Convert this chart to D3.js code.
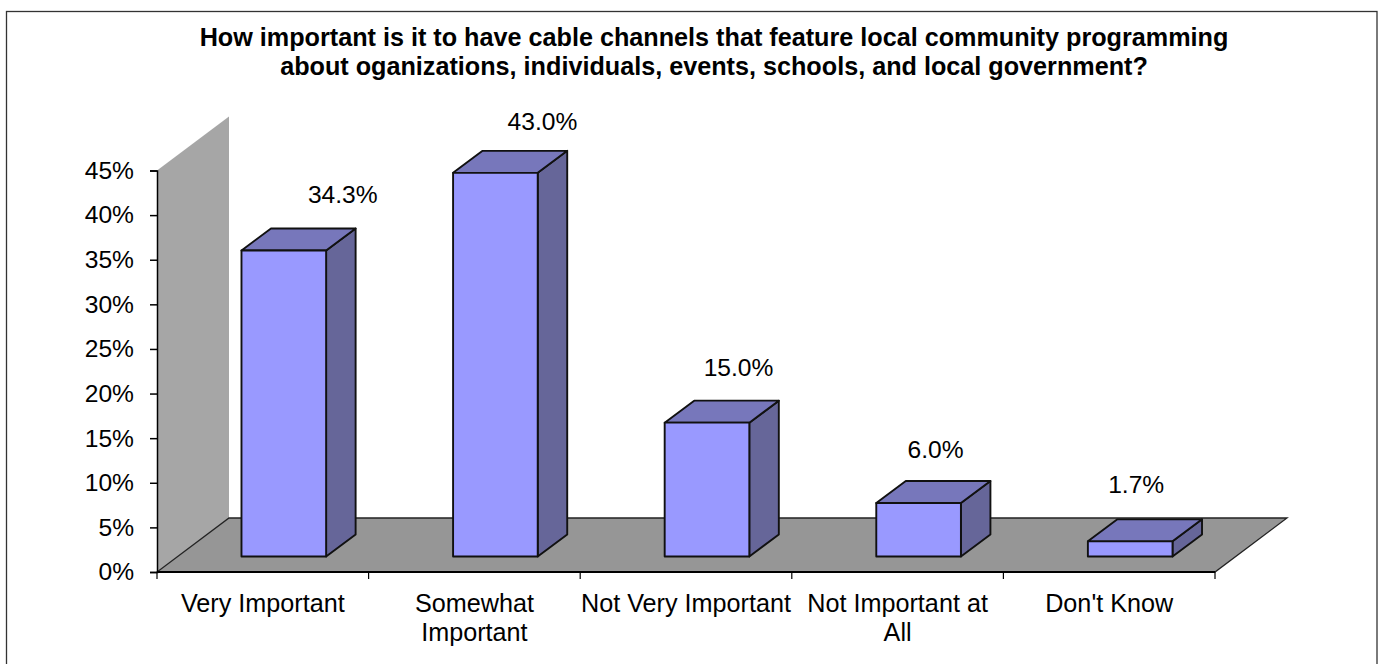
<!DOCTYPE html>
<html><head><meta charset="utf-8">
<script src="https://cdn.jsdelivr.net/npm/d3@7"></script>
<style>html,body{margin:0;padding:0;background:#fff;overflow:hidden}svg{display:block}text{font-family:"Liberation Sans",Arial,sans-serif;fill:#000}</style>
</head><body><svg id="c" width="1380" height="664"></svg>
<script>
const categories=[["Very Important"],["Somewhat","Important"],["Not Very Important"],["Not Important at","All"],["Don't Know"]];
const values=[34.3,43.0,15.0,6.0,1.7];
const valueLabels=["34.3%","43.0%","15.0%","6.0%","1.7%"];
const yTicks=[0,5,10,15,20,25,30,35,40,45];
const titleLines=["How important is it to have cable channels that feature local community programming","about oganizations, individuals, events, schools, and local government?"];

const svg=d3.select("#c");
const x=d3.scaleBand().domain(d3.range(categories.length)).range([157,1215]);
const y=d3.scaleLinear().domain([0,45]).range([572,170.5]);
const wall={dx:72,dy:-54}, front={dx:21,dy:-15.5}, side={dx:29.5,dy:-22};
const barW=x.bandwidth()*0.4;
const labelNudge=[[59,-25.5],[47,-21],[31.5,-24.7],[17,-23],[6,-26]];
const poly=p=>"M"+p.map(q=>q.join(",")).join("L")+"Z";

svg.append("rect").attr("x",6.5).attr("y",11.5).attr("width",1370.5).attr("height",700).attr("fill","#fff").attr("stroke","#333").attr("stroke-width",1.3);

const t=svg.append("g").attr("font-weight","bold").attr("font-size",25.2).attr("text-anchor","middle");
titleLines.forEach((s,i)=>t.append("text").attr("x",714).attr("y",46+i*29).text(s));

const X0=x.range()[0],X1=x.range()[1],Y0=y(0),YT=y(45);
svg.append("path").attr("d",poly([[X0,Y0],[X0,YT],[X0+wall.dx,YT+wall.dy],[X0+wall.dx,Y0+wall.dy]])).attr("fill","#a6a6a6");
svg.append("path").attr("d",poly([[X0,Y0],[X1,Y0],[X1+wall.dx,Y0+wall.dy],[X0+wall.dx,Y0+wall.dy]])).attr("fill","#969696").attr("stroke","#222").attr("stroke-width",1.3);

const bars=svg.append("g").attr("stroke","#111").attr("stroke-width",1.9).attr("stroke-linejoin","round");
values.forEach((v,i)=>{
  const l=x(i)+(x.bandwidth()-barW)/2+front.dx, r=l+barW, b=Y0+front.dy, tp=y(v)+front.dy;
  bars.append("path").attr("fill","#666699").attr("d",poly([[r,tp],[r+side.dx,tp+side.dy],[r+side.dx,b+side.dy],[r,b]]));
  bars.append("path").attr("fill","#7777bb").attr("d",poly([[l,tp],[l+side.dx,tp+side.dy],[r+side.dx,tp+side.dy],[r,tp]]));
  bars.append("path").attr("fill","#9999ff").attr("d",poly([[l,tp],[r,tp],[r,b],[l,b]]));
  svg.append("text").attr("x",(l+r)/2+labelNudge[i][0]).attr("y",tp+side.dy+labelNudge[i][1]).attr("text-anchor","middle").attr("font-size",24.6).text(valueLabels[i]);
});

const yAxis=d3.axisLeft(y).tickValues(yTicks).tickFormat(d=>d+"%").tickSize(7).tickPadding(16);
const ya=svg.append("g").attr("transform",`translate(${X0},0)`).call(yAxis);
ya.selectAll("path,line").attr("stroke","#000").attr("stroke-width",1.5);
ya.selectAll("text").attr("font-size",24.6).attr("font-family",null);

const xa=svg.append("g").attr("transform",`translate(0,${Y0})`);
xa.append("path").attr("d",`M${X0},0H${X1}`).attr("stroke","#000").attr("stroke-width",1.8);
d3.range(categories.length+1).forEach(i=>{
  const px=X0+i*x.step();
  xa.append("line").attr("x1",px).attr("x2",px).attr("y1",0).attr("y2",7).attr("stroke","#000").attr("stroke-width",1.2);
});
categories.forEach((c,i)=>{
  c.forEach((s,j)=>svg.append("text").attr("x",x(i)+x.bandwidth()/2).attr("y",612+j*29).attr("text-anchor","middle").attr("font-size",25.2).text(s));
});
</script></body></html>
